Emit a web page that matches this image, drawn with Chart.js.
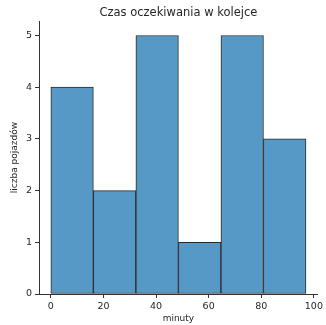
<!DOCTYPE html>
<html>
<head>
<meta charset="utf-8">
<script src="https://cdn.jsdelivr.net/npm/chart.js@4/dist/chart.umd.min.js"></script>
<style>
  html, body { margin: 0; padding: 0; background: #fff; }
  #wrap { width: 326px; height: 325px; }
</style>
</head>
<body>
<div id="wrap"><canvas id="c" width="326" height="325"></canvas></div>
<script>
// Histogram of waiting times: bin edges (minutes) and vehicle counts per bin
const binEdges = [0, 16.17, 32.33, 48.5, 64.67, 80.83, 97];
const counts = [4, 2, 5, 1, 5, 3];
const xTicks = [0, 20, 40, 60, 80, 100];
const yTicks = [0, 1, 2, 3, 4, 5];
const titleText = 'Czas oczekiwania w kolejce';
const xLabel = 'minuty';
const yLabel = 'liczba pojazdów';

const points = counts.map((v, i) => ({ x: (binEdges[i] + binEdges[i + 1]) / 2, y: v }));

const textColor = '#262626';
const fontFamily = '"DejaVu Sans", sans-serif';

// Title centred over the plot area
const titlePlugin = {
  id: 'areaTitle',
  afterDraw(chart) {
    const { ctx, chartArea } = chart;
    ctx.save();
    ctx.font = '11.5px ' + fontFamily;
    ctx.fillStyle = textColor;
    ctx.textAlign = 'center';
    ctx.textBaseline = 'middle';
    ctx.fillText(titleText, (chartArea.left + chartArea.right) / 2, 13);
    ctx.restore();
  }
};

new Chart(document.getElementById('c'), {
  type: 'bar',
  data: {
    datasets: [{
      data: points,
      backgroundColor: 'rgba(87,153,198,1)',
      borderColor: '#2b2b2b',
      borderWidth: 1,
      barPercentage: 1,
      categoryPercentage: 1,
      borderSkipped: false
    }]
  },
  options: {
    responsive: false,
    animation: false,
    layout: { padding: { top: 21, right: 4, left: 0, bottom: 0 } },
    plugins: { legend: { display: false }, tooltip: { enabled: false } },
    scales: {
      x: {
        type: 'linear',
        offset: false,
        min: -4.5,
        max: 101.5,
        afterBuildTicks(scale) { scale.ticks = xTicks.map(v => ({ value: v })); },
        afterFit(scale) { scale.height = 31; },
        grid: { offset: false, drawOnChartArea: false, drawTicks: true, tickLength: 4, color: '#333' },
        border: { color: '#333', width: 1 },
        ticks: { color: textColor, font: { size: 9.5, family: fontFamily }, padding: 3, maxRotation: 0 },
        title: { display: true, text: xLabel, color: textColor, font: { size: 9, family: fontFamily }, padding: { top: 0, bottom: 1 } }
      },
      y: {
        type: 'linear',
        min: 0,
        max: 5.28,
        afterBuildTicks(scale) { scale.ticks = yTicks.map(v => ({ value: v })); },
        afterFit(scale) { scale.width = 39; },
        grid: { drawOnChartArea: false, drawTicks: true, tickLength: 4, color: '#333' },
        border: { color: '#333', width: 1 },
        ticks: { color: textColor, font: { size: 9.5, family: fontFamily }, padding: 3 },
        title: { display: true, text: yLabel, color: textColor, font: { size: 9, family: fontFamily }, padding: { top: 9, bottom: 0 } }
      }
    }
  },
  plugins: [titlePlugin]
});
</script>
</body>
</html>
